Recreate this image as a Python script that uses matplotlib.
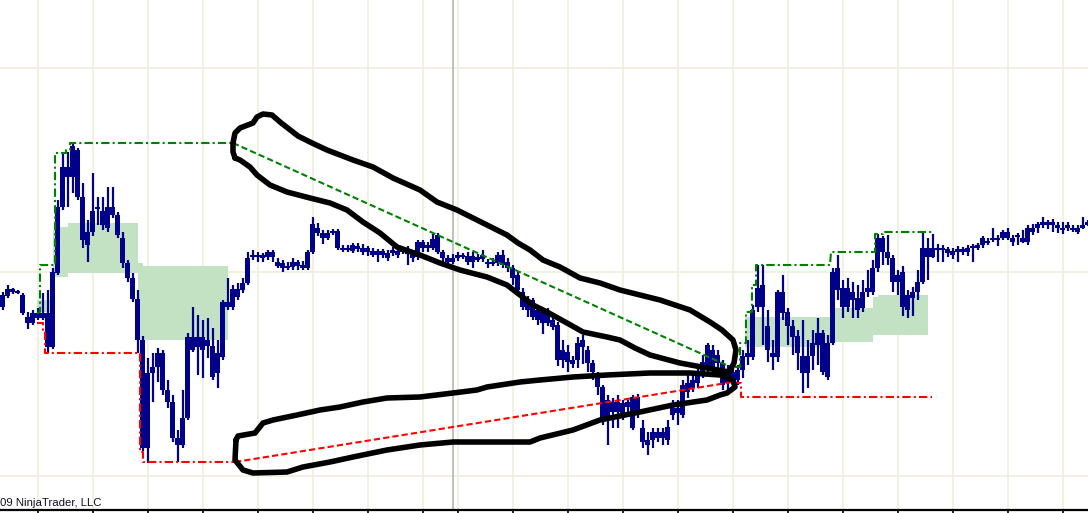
import matplotlib.pyplot as plt
import numpy as np

# candles, in pixel rows of the 1088x513 picture (0 = top)
opens = [295, 289, 289, 291, 295, 317, 313, 313, 313, 313,
         272, 207, 167, 167, 146, 150, 197, 232, 211, 207,
         211, 207, 207, 215, 238, 263, 278, 299, 340, 373,
         367, 353, 353, 390, 402, 438, 418, 337, 337, 337,
         337, 340, 346, 353, 302, 302, 289, 289, 283, 258,
         255, 255, 255, 252, 252, 262, 263, 266, 262, 262,
         265, 252, 224, 228, 233, 233, 231, 231, 248, 248,
         245, 246, 248, 248, 251, 251, 251, 253, 250, 251,
         250, 250, 253, 242, 242, 245, 239, 235, 252, 258,
         258, 255, 255, 256, 256, 257, 255, 262, 262, 255,
         255, 262, 268, 275, 292, 302, 300, 310, 312, 312,
         320, 325, 350, 352, 360, 343, 340, 350, 363, 378,
         387, 400, 402, 402, 403, 402, 397, 397, 428, 440,
         432, 432, 432, 427, 408, 408, 385, 383, 380, 373,
         362, 345, 350, 355, 363, 373, 372, 370, 356, 353,
         310, 288, 285, 326, 353, 292, 292, 312, 326, 336,
         356, 356, 343, 333, 333, 343, 272, 268, 288, 288,
         292, 298, 292, 288, 268, 238, 238, 252, 258, 275,
         272, 295, 292, 282, 248, 248, 248, 248, 248, 249,
         251, 249, 249, 248, 246, 245, 238, 241, 238, 238,
         232, 232, 238, 235, 238, 228, 228, 224, 222, 222,
         222, 225, 228, 225, 228, 228, 225, 222]
closes = [307, 296, 292, 293, 313, 323, 323, 318, 318, 347,
          347, 273, 207, 177, 177, 197, 240, 245, 232, 208,
          225, 228, 215, 235, 263, 278, 299, 340, 448, 448,
          373, 367, 390, 402, 438, 445, 445, 418, 350, 347,
          350, 346, 377, 373, 357, 307, 307, 297, 290, 283,
          256, 256, 258, 257, 257, 266, 268, 267, 267, 266,
          268, 268, 252, 233, 238, 238, 232, 248, 249, 249,
          251, 249, 252, 252, 255, 255, 255, 258, 253, 255,
          251, 254, 258, 257, 248, 248, 248, 252, 258, 262,
          262, 258, 256, 262, 262, 260, 259, 264, 264, 263,
          265, 268, 278, 290, 307, 310, 317, 320, 323, 323,
          327, 360, 360, 362, 364, 360, 347, 363, 372, 387,
          420, 420, 412, 412, 413, 407, 428, 410, 442, 445,
          440, 438, 438, 440, 415, 413, 415, 392, 388, 383,
          373, 367, 367, 363, 385, 383, 380, 380, 370, 357,
          357, 307, 307, 350, 357, 357, 313, 326, 337, 353,
          373, 373, 356, 345, 372, 377, 343, 290, 307, 307,
          300, 310, 308, 292, 292, 268, 252, 258, 282, 282,
          307, 310, 298, 292, 282, 257, 257, 249, 250, 253,
          255, 252, 252, 252, 248, 248, 245, 242, 239, 239,
          238, 238, 242, 236, 242, 242, 232, 228, 225, 225,
          225, 228, 229, 228, 229, 232, 228, 225]
highs = [292, 285, 288, 290, 293, 312, 310, 308, 293, 290,
         268, 200, 152, 152, 143, 148, 183, 220, 173, 197,
         197, 187, 187, 212, 232, 260, 273, 290, 336, 358,
         353, 348, 350, 380, 395, 430, 390, 333, 307, 315,
         320, 318, 328, 340, 300, 278, 285, 283, 278, 252,
         250, 252, 253, 250, 250, 258, 260, 262, 258, 260,
         261, 250, 217, 223, 230, 230, 229, 229, 245, 245,
         243, 243, 244, 246, 248, 249, 249, 250, 247, 248,
         247, 246, 250, 240, 240, 242, 234, 233, 250, 255,
         254, 252, 253, 252, 252, 254, 250, 259, 258, 252,
         250, 258, 265, 272, 288, 296, 298, 305, 310, 308,
         318, 322, 340, 345, 356, 337, 335, 346, 360, 372,
         385, 395, 398, 395, 400, 400, 395, 394, 420, 432,
         428, 428, 428, 420, 400, 400, 380, 375, 374, 365,
         355, 343, 345, 350, 360, 365, 368, 365, 350, 340,
         305, 265, 265, 310, 340, 290, 275, 308, 320, 330,
         320, 340, 330, 318, 330, 335, 268, 255, 280, 278,
         282, 285, 280, 270, 260, 234, 236, 235, 255, 270,
         266, 290, 287, 270, 232, 238, 234, 244, 245, 247,
         248, 246, 247, 245, 244, 243, 236, 238, 228, 235,
         230, 228, 235, 233, 230, 225, 224, 222, 217, 220,
         219, 222, 222, 222, 225, 225, 217, 220]
lows = [310, 298, 294, 294, 315, 329, 325, 320, 320, 353,
        349, 275, 210, 207, 193, 200, 248, 262, 236, 225,
        230, 232, 218, 238, 268, 282, 302, 353, 451, 463,
        402, 382, 395, 408, 442, 462, 448, 420, 352, 375,
        378, 358, 380, 388, 360, 310, 310, 300, 293, 285,
        260, 262, 262, 260, 262, 268, 272, 270, 270, 270,
        270, 270, 254, 236, 244, 240, 235, 250, 252, 252,
        253, 252, 255, 256, 257, 262, 258, 261, 256, 258,
        254, 265, 262, 260, 252, 252, 250, 254, 262, 265,
        264, 261, 259, 265, 268, 262, 262, 268, 266, 266,
        268, 272, 285, 294, 310, 317, 320, 325, 334, 326,
        330, 366, 368, 372, 368, 368, 364, 372, 380, 395,
        425, 445, 428, 428, 420, 415, 430, 418, 448, 455,
        448, 442, 445, 445, 420, 425, 418, 398, 392, 388,
        378, 372, 372, 370, 390, 395, 385, 385, 378, 365,
        360, 312, 345, 362, 370, 362, 320, 345, 355, 370,
        393, 388, 370, 365, 375, 380, 345, 300, 318, 312,
        318, 318, 312, 297, 295, 272, 265, 265, 292, 295,
        316, 318, 316, 300, 284, 280, 258, 262, 262, 257,
        259, 262, 255, 256, 262, 250, 248, 245, 242, 246,
        240, 240, 246, 245, 243, 245, 235, 233, 228, 229,
        232, 233, 234, 231, 232, 234, 229, 226]

# channel lines
green_step_x = [37, 40, 40, 55, 55, 66, 66, 70, 70, 233]
green_step_y = [313, 312, 265, 265, 153, 153, 150, 150, 143, 143]
green_diag_x = [233, 733]
green_diag_y = [143, 368]
green_step2_x = [735, 740, 740, 746, 746, 752, 752, 756, 756, 830, 831, 875, 875, 883, 883, 932]
green_step2_y = [367, 367, 343, 343, 312, 312, 285, 285, 265, 265, 252, 252, 234, 234, 232, 232]

red_step_x = [37, 43, 43, 45, 45, 140, 140, 143, 143, 235]
red_step_y = [323, 323, 330, 330, 353, 353, 452, 452, 462, 462]
red_diag_x = [235, 733]
red_diag_y = [462, 382]
red_step2_x = [733, 741, 741, 932]
red_step2_y = [383, 383, 397, 397]

# shaded zones (step edges)
zone1_x = [37, 53]
zone1_top = [300, 300]
zone1_bot = [312, 312]
zone2_x = [53, 58, 68, 138, 143, 228]
zone2_top = [230, 227, 223, 263, 266, 266]
zone2_bot = [277, 277, 273, 340, 340, 340]
zone3_x = [745, 830, 873, 878, 928]
zone3_top = [317, 308, 297, 295, 295]
zone3_bot = [347, 342, 335, 335, 335]

# hand drawn loops
loop1_x = [235, 233, 233, 235, 240, 253, 257, 263, 272, 280, 298, 312, 327, 353, 373,
           393, 420, 437, 457, 473, 487, 507, 518, 530, 543, 560, 580, 600, 620, 640,
           660, 690, 710, 722, 733, 736, 734, 729, 707, 680, 650, 635, 620, 607, 583,
           567, 547, 533, 520, 507, 487, 460, 440, 420, 397, 380, 363, 347, 330, 310,
           287, 270, 257, 250, 240, 235]
loop1_y = [158, 152, 143, 133, 128, 123, 117, 114, 115, 122, 136, 143, 150, 160, 167,
           178, 190, 202, 210, 218, 225, 235, 243, 250, 260, 267, 278, 283, 290, 295,
           300, 310, 322, 330, 340, 350, 363, 372, 368, 363, 355, 348, 340, 337, 332,
           323, 312, 305, 295, 285, 277, 270, 263, 255, 247, 233, 222, 210, 203, 198,
           192, 185, 175, 167, 160, 158]
loop2_x = [236, 238, 255, 263, 273, 297, 320, 340, 363, 387, 420, 453, 477, 487, 520,
           540, 573, 607, 650, 690, 720, 733, 735, 727, 720, 707, 673, 640, 600, 573,
           540, 530, 487, 453, 420, 387, 353, 330, 303, 287, 253, 243, 235, 236]
loop2_y = [440, 436, 433, 423, 420, 415, 410, 407, 402, 398, 397, 393, 390, 387, 382,
           380, 377, 375, 373, 373, 375, 380, 387, 393, 395, 400, 405, 412, 420, 430,
           438, 442, 442, 442, 445, 450, 457, 462, 467, 472, 473, 470, 460, 440]

grid_x = [38, 93, 148, 203, 258, 313, 368, 423, 458, 513, 568, 623, 678, 733,
          788, 843, 898, 953, 1008, 1063]
grid_y = [68, 272, 476]

fig = plt.figure(figsize=(10.88, 5.13), dpi=100)
ax = fig.add_axes([0, 3 / 513, 1, 510 / 513])
ax.set_xlim(0, 1088)
ax.set_ylim(510, 0)

ax.set_xticks(grid_x)
ax.set_yticks(grid_y)
ax.set_xticklabels([])
ax.set_yticklabels([])
ax.grid(True, color='#f0efdf', lw=1.3, zorder=0)
ax.tick_params(axis='x', direction='out', length=2.5, width=1.2, color='black')
ax.tick_params(axis='y', length=0)
for s in ['top', 'left', 'right']:
    ax.spines[s].set_visible(False)
ax.spines['bottom'].set_linewidth(1.6)
ax.set_axisbelow(True)
ax.axvline(453, color='#b5b5b5', lw=1.2, zorder=1)

shade = '#c3e2c3'
ax.fill_between(zone1_x, zone1_top, zone1_bot, step='post', color=shade, lw=0, zorder=2)
ax.fill_between(zone2_x, zone2_top, zone2_bot, step='post', color=shade, lw=0, zorder=2)
ax.fill_between(zone3_x, zone3_top, zone3_bot, step='post', color=shade, lw=0, zorder=2)

n = len(closes)
x = np.arange(n) * 5 + 2.5
o = np.array(opens)
c = np.array(closes)
body_lo = np.minimum(o, c)
body_h = np.maximum(np.abs(c - o), 2)
navy = '#000088'
ax.vlines(x, highs, lows, color=navy, lw=1.6, zorder=3)
ax.bar(x, body_h, bottom=body_lo, width=5.0, color=navy, lw=0, zorder=4)

dashdot = (0, (4, 1.5, 1, 1.5))
dashed = (0, (3, 1.5))
ax.plot(green_step_x, green_step_y, color='#008000', lw=1.5, ls=dashdot, zorder=5)
ax.plot(green_diag_x, green_diag_y, color='#008000', lw=1.5, ls=dashed, zorder=5)
ax.plot(green_step2_x, green_step2_y, color='#008000', lw=1.5, ls=dashdot, zorder=5)
ax.plot(red_step_x, red_step_y, color='#ff0000', lw=1.5, ls=dashdot, zorder=5)
ax.plot(red_diag_x, red_diag_y, color='#ff0000', lw=1.5, ls=dashed, zorder=5)
ax.plot(red_step2_x, red_step2_y, color='#ff0000', lw=1.5, ls=dashdot, zorder=5)

ax.plot(loop1_x, loop1_y, color='black', lw=4, solid_joinstyle='round',
        solid_capstyle='round', zorder=6)
ax.plot(loop2_x, loop2_y, color='black', lw=4, solid_joinstyle='round',
        solid_capstyle='round', zorder=6)

ax.text(0, 506, '09 NinjaTrader, LLC', fontsize=8.2, family='Liberation Sans',
        color='#111122', va='baseline', ha='left', zorder=7)

fig.savefig('out.png', dpi=100)
